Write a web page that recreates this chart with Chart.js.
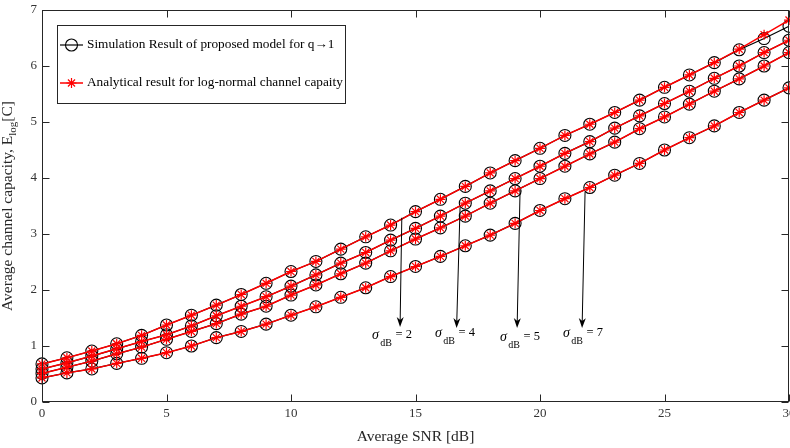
<!DOCTYPE html>
<html>
<head>
<meta charset="utf-8">
<script src="https://cdn.jsdelivr.net/npm/chart.js@4/dist/chart.umd.min.js"></script>
<style>
  html, body { margin: 0; padding: 0; background: #fff; }
  canvas { display: block; }
</style>
</head>
<body>
<canvas id="capacity" width="790" height="448"></canvas>
<script>
// Average SNR in dB (x axis)
const snrDb = [0, 1, 2, 3, 4, 5, 6, 7, 8, 9, 10, 11, 12, 13, 14, 15, 16, 17, 18, 19, 20, 21, 22, 23, 24, 25, 26, 27, 28, 29, 30];

// Simulation results of the proposed model (q -> 1)
const simSigma2 = [0.68, 0.79, 0.91, 1.04, 1.19, 1.375, 1.55, 1.73, 1.92, 2.12, 2.33, 2.51, 2.73, 2.95, 3.16, 3.40, 3.62, 3.85, 4.09, 4.31, 4.53, 4.76, 4.96, 5.17, 5.39, 5.62, 5.84, 6.06, 6.29, 6.49, 6.71];
const simSigma4 = [0.59, 0.70, 0.82, 0.95, 1.08, 1.20, 1.36, 1.54, 1.71, 1.88, 2.07, 2.27, 2.48, 2.67, 2.89, 3.10, 3.32, 3.55, 3.77, 3.99, 4.21, 4.44, 4.65, 4.89, 5.11, 5.33, 5.55, 5.78, 6.00, 6.24, 6.46];
const simSigma5 = [0.51, 0.62, 0.73, 0.86, 0.98, 1.12, 1.26, 1.40, 1.57, 1.71, 1.91, 2.09, 2.29, 2.48, 2.70, 2.91, 3.11, 3.32, 3.55, 3.77, 3.99, 4.21, 4.43, 4.64, 4.88, 5.09, 5.32, 5.55, 5.77, 6.00, 6.24];
const simSigma7 = [0.43, 0.52, 0.59, 0.69, 0.78, 0.88, 1.00, 1.15, 1.26, 1.39, 1.55, 1.70, 1.87, 2.04, 2.24, 2.42, 2.60, 2.79, 2.98, 3.19, 3.42, 3.63, 3.83, 4.05, 4.26, 4.50, 4.72, 4.93, 5.17, 5.39, 5.61];

// Analytical log-normal channel capacity
const anaSigma2 = [0.68, 0.79, 0.91, 1.04, 1.19, 1.375, 1.55, 1.73, 1.92, 2.12, 2.33, 2.51, 2.73, 2.95, 3.16, 3.40, 3.62, 3.85, 4.09, 4.31, 4.53, 4.76, 4.96, 5.17, 5.39, 5.62, 5.84, 6.06, 6.30, 6.56, 6.82];
const anaSigma4 = [0.59, 0.70, 0.82, 0.95, 1.08, 1.20, 1.36, 1.54, 1.71, 1.88, 2.07, 2.27, 2.48, 2.67, 2.89, 3.10, 3.32, 3.55, 3.77, 3.99, 4.21, 4.44, 4.65, 4.89, 5.11, 5.33, 5.55, 5.78, 6.00, 6.24, 6.46];
const anaSigma5 = [0.51, 0.62, 0.73, 0.86, 0.98, 1.12, 1.26, 1.40, 1.57, 1.71, 1.91, 2.09, 2.29, 2.48, 2.70, 2.91, 3.11, 3.32, 3.55, 3.77, 3.99, 4.21, 4.43, 4.64, 4.88, 5.09, 5.32, 5.55, 5.77, 6.00, 6.24];
const anaSigma7 = [0.43, 0.52, 0.59, 0.69, 0.78, 0.88, 1.00, 1.15, 1.26, 1.39, 1.55, 1.70, 1.87, 2.04, 2.24, 2.42, 2.60, 2.79, 2.98, 3.19, 3.42, 3.63, 3.83, 4.05, 4.26, 4.50, 4.72, 4.93, 5.17, 5.39, 5.61];

// Tick values
const xTicks = [0, 5, 10, 15, 20, 25, 30];
const yTicks = [0, 1, 2, 3, 4, 5, 6, 7];

// Sigma annotations: arrow from a curve down to the label (data units)
const sigmaDb = [2, 4, 5, 7];
const arrowFromSnr = [14.45, 16.79, 19.20, 21.81];
const arrowFromCap = [3.29, 3.48, 3.79, 3.75];
const arrowToSnr = [14.38, 16.65, 19.08, 21.69];
const arrowToCap = [1.34, 1.32, 1.32, 1.32];
const labelSnr = [13.25, 15.78, 18.39, 20.92];
const labelCap = [1.196, 1.232, 1.160, 1.232];

const legendLabels = ['Simulation Result of proposed model for q\u21921', 'Analytical result for log-normal channel capaity'];

const SERIF = '"Liberation Serif", "Times New Roman", serif';
const RED = '#ff0000';

function points(values) {
  return values.map((v, i) => ({ x: snrDb[i], y: v }));
}
function simDataset(values) {
  return {
    data: points(values),
    borderColor: '#000',
    borderWidth: 1.2,
    pointStyle: 'circle',
    pointRadius: 6,
    pointHoverRadius: 6,
    pointBorderColor: '#000',
    pointBackgroundColor: 'rgba(0,0,0,0)',
    pointBorderWidth: 1.1,
    tension: 0,
    fill: false,
    clip: false,
    order: 2
  };
}
function anaDataset(values) {
  return {
    data: points(values),
    borderColor: RED,
    borderWidth: 1.5,
    pointStyle: 'star',
    pointRadius: 5,
    pointHoverRadius: 5,
    pointBorderColor: RED,
    pointBackgroundColor: RED,
    pointBorderWidth: 1.2,
    tension: 0,
    fill: false,
    clip: false,
    order: 1
  };
}

function drawArrow(ctx, x1, y1, x2, y2) {
  const ang = Math.atan2(y2 - y1, x2 - x1);
  const len = 10, half = 3.5;
  ctx.beginPath();
  ctx.moveTo(x1, y1);
  ctx.lineTo(x2 - len * Math.cos(ang) * 0.6, y2 - len * Math.sin(ang) * 0.6);
  ctx.stroke();
  ctx.beginPath();
  ctx.moveTo(x2, y2);
  ctx.lineTo(x2 - len * Math.cos(ang) - half * Math.sin(ang), y2 - len * Math.sin(ang) + half * Math.cos(ang));
  ctx.lineTo(x2 - len * Math.cos(ang) * 0.7, y2 - len * Math.sin(ang) * 0.7);
  ctx.lineTo(x2 - len * Math.cos(ang) + half * Math.sin(ang), y2 - len * Math.sin(ang) - half * Math.cos(ang));
  ctx.closePath();
  ctx.fill();
}

const decorations = {
  id: 'decorations',
  afterDraw(chart) {
    const { ctx, chartArea: a, scales: { x, y } } = chart;
    const L = Math.round(a.left) + 0.5, R = Math.round(a.right) - 0.5;
    const T = Math.round(a.top) + 0.5, B = Math.round(a.bottom) - 0.5;
    ctx.save();

    // axes box
    ctx.strokeStyle = '#262626';
    ctx.lineWidth = 1;
    ctx.strokeRect(L, T, R - L, B - T);

    // inward tick marks on all four sides
    const tl = 7;
    ctx.beginPath();
    xTicks.forEach(v => {
      const px = Math.round(x.getPixelForValue(v)) + 0.5;
      ctx.moveTo(px, B); ctx.lineTo(px, B - tl);
      ctx.moveTo(px, T); ctx.lineTo(px, T + tl);
    });
    yTicks.forEach(v => {
      const py = Math.round(y.getPixelForValue(v)) + 0.5;
      ctx.moveTo(L, py); ctx.lineTo(L + tl, py);
      ctx.moveTo(R, py); ctx.lineTo(R - tl, py);
    });
    ctx.stroke();

    // x tick labels
    ctx.fillStyle = '#333';
    ctx.font = '13px ' + SERIF;
    ctx.textAlign = 'center';
    ctx.textBaseline = 'middle';
    xTicks.forEach(v => ctx.fillText(String(v), x.getPixelForValue(v), 414));

    // x axis title
    ctx.fillStyle = '#262626';
    ctx.font = '15.5px ' + SERIF;
    ctx.fillText('Average SNR [dB]', (a.left + a.right) / 2, 437);

    // y axis title with subscript
    ctx.save();
    const mainFont = '15.5px ' + SERIF, subFont = '11px ' + SERIF;
    const p1 = 'Average channel capacity, E', p2 = 'log', p3 = '[C]';
    ctx.font = mainFont; const w1 = ctx.measureText(p1).width, w3 = ctx.measureText(p3).width;
    ctx.font = subFont; const w2 = ctx.measureText(p2).width;
    const total = w1 + w2 + w3;
    ctx.translate(12, (a.top + a.bottom) / 2);
    ctx.rotate(-Math.PI / 2);
    ctx.textAlign = 'left';
    ctx.textBaseline = 'alphabetic';
    let sx = -total / 2;
    ctx.font = mainFont; ctx.fillText(p1, sx, 0); sx += w1;
    ctx.font = subFont; ctx.fillText(p2, sx, 4); sx += w2;
    ctx.font = mainFont; ctx.fillText(p3, sx, 0);
    ctx.restore();

    // legend
    const lx = 57.5, ly = 25.5, lw = 288, lh = 78;
    ctx.fillStyle = '#fff';
    ctx.fillRect(lx, ly, lw, lh);
    ctx.strokeStyle = '#262626';
    ctx.lineWidth = 1;
    ctx.strokeRect(lx, ly, lw, lh);
    const rows = [45, 83];
    // simulation entry
    ctx.strokeStyle = '#000';
    ctx.lineWidth = 1.2;
    ctx.beginPath(); ctx.moveTo(60, rows[0]); ctx.lineTo(83, rows[0]); ctx.stroke();
    ctx.lineWidth = 1.1;
    ctx.beginPath(); ctx.arc(71.5, rows[0], 6, 0, Math.PI * 2); ctx.stroke();
    // analytical entry
    ctx.strokeStyle = RED;
    ctx.lineWidth = 1.5;
    ctx.beginPath(); ctx.moveTo(60, rows[1]); ctx.lineTo(83, rows[1]); ctx.stroke();
    ctx.lineWidth = 1.2;
    ctx.beginPath();
    for (let k = 0; k < 4; k++) {
      const ang = k * Math.PI / 4;
      ctx.moveTo(71.5 - 5 * Math.cos(ang), rows[1] - 5 * Math.sin(ang));
      ctx.lineTo(71.5 + 5 * Math.cos(ang), rows[1] + 5 * Math.sin(ang));
    }
    ctx.stroke();
    ctx.fillStyle = '#000';
    ctx.font = '13.3px ' + SERIF;
    ctx.textAlign = 'left';
    ctx.textBaseline = 'middle';
    ctx.fillText(legendLabels[0], 87, rows[0]);
    ctx.fillText(legendLabels[1], 87, rows[1]);

    // sigma arrows and labels
    ctx.strokeStyle = '#000';
    ctx.fillStyle = '#000';
    ctx.lineWidth = 1;
    sigmaDb.forEach((s, i) => {
      drawArrow(ctx,
        x.getPixelForValue(arrowFromSnr[i]), y.getPixelForValue(arrowFromCap[i]),
        x.getPixelForValue(arrowToSnr[i]), y.getPixelForValue(arrowToCap[i]));
      let tx = x.getPixelForValue(labelSnr[i]);
      const ty = y.getPixelForValue(labelCap[i]);
      ctx.textAlign = 'left';
      ctx.textBaseline = 'middle';
      ctx.font = 'italic 14px ' + SERIF;
      ctx.fillText('\u03C3', tx, ty);
      tx += ctx.measureText('\u03C3').width + 1.5;
      ctx.font = '10px ' + SERIF;
      ctx.fillText('dB', tx, ty + 8);
      tx += ctx.measureText('dB').width + 0.5;
      ctx.font = '12.5px ' + SERIF;
      ctx.fillText(' = ' + s, tx, ty);
    });

    ctx.restore();
  }
};

new Chart(document.getElementById('capacity'), {
  type: 'line',
  data: {
    datasets: [
      simDataset(simSigma2), simDataset(simSigma4), simDataset(simSigma5), simDataset(simSigma7),
      anaDataset(anaSigma2), anaDataset(anaSigma4), anaDataset(anaSigma5), anaDataset(anaSigma7)
    ]
  },
  options: {
    responsive: false,
    animation: false,
    events: [],
    layout: { autoPadding: false, padding: { left: 0, right: 1, top: 10, bottom: 0 } },
    plugins: { legend: { display: false }, tooltip: { enabled: false } },
    scales: {
      x: {
        type: 'linear',
        min: 0, max: 30,
        afterBuildTicks(scale) { scale.ticks = xTicks.map(v => ({ value: v })); },
        ticks: { display: false },
        grid: { display: false, drawTicks: false },
        border: { display: false },
        afterFit(scale) { scale.height = 46; scale.paddingLeft = 0; scale.paddingRight = 0; }
      },
      y: {
        type: 'linear',
        min: 0, max: 7,
        afterBuildTicks(scale) { scale.ticks = yTicks.map(v => ({ value: v })); },
        ticks: { color: '#333', font: { family: SERIF, size: 13 }, padding: 5, autoSkip: false },
        grid: { display: false, drawTicks: false },
        border: { display: false },
        afterFit(scale) { scale.width = 42; scale.paddingTop = 0; scale.paddingBottom = 0; }
      }
    }
  },
  plugins: [decorations]
});
</script>
</body>
</html>
